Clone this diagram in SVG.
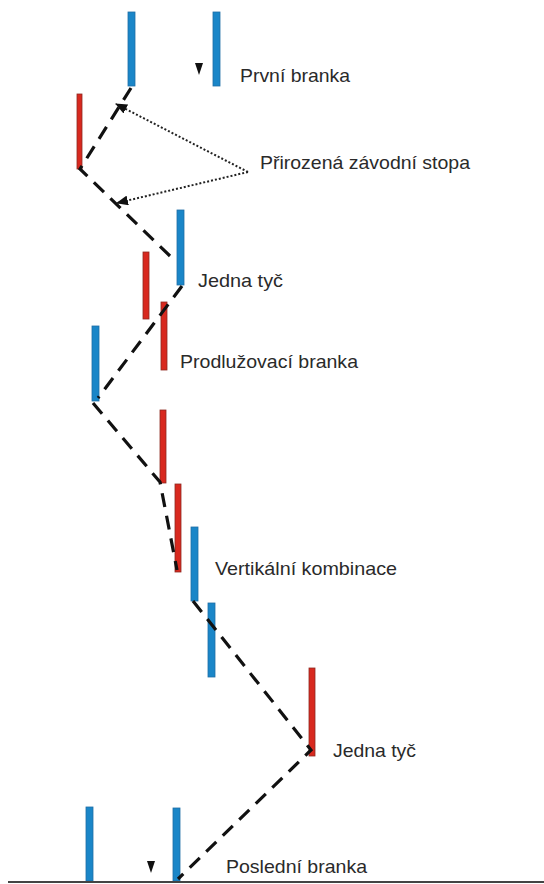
<svg xmlns="http://www.w3.org/2000/svg" width="544" height="884" viewBox="0 0 544 884">
<style>
.blue{fill:#1a86c8;stroke:#1f6ea6;stroke-width:0.8}
.red{fill:#d8291f;stroke:#8e2a22;stroke-width:0.8}
.track{fill:none;stroke:#111;stroke-width:3.2;stroke-dasharray:14 9}
.dot{fill:none;stroke:#222;stroke-width:2;stroke-dasharray:2 2}
.lbl{font-family:"Liberation Sans",Arial,sans-serif;font-size:18.5px;fill:#2a2a2a}
</style>
<defs>
<marker id="ah" viewBox="0 0 12 10" refX="11" refY="5" markerWidth="12" markerHeight="10" markerUnits="userSpaceOnUse" orient="auto">
<path d="M0,0 L12,5 L0,10 Z" fill="#111"/>
</marker>
</defs>
<rect x="0" y="0" width="544" height="884" fill="#fff"/>
<g id="poles">
<g id="gate-first"><rect class="blue" x="128" y="12" width="7" height="74"/><rect class="blue" x="213" y="12" width="7" height="74"/><path d="M195,63 L203,63 L199,75 Z" fill="#111"/></g>
<g id="pole-red1"><rect class="red" x="77" y="94" width="5" height="75"/></g>
<g id="pole-blue3"><rect class="blue" x="177" y="210" width="7" height="75"/></g>
<g id="pole-red2"><rect class="red" x="143" y="252" width="6" height="67"/></g>
<g id="pole-red3"><rect class="red" x="161" y="302" width="6" height="68"/></g>
<g id="pole-blue4"><rect class="blue" x="92" y="326" width="7" height="75"/></g>
<g id="pole-red4"><rect class="red" x="160" y="410" width="6" height="73"/></g>
<g id="pole-red5"><rect class="red" x="175" y="484" width="6" height="88"/></g>
<g id="pole-blue5"><rect class="blue" x="191" y="527" width="7" height="74"/></g>
<g id="pole-blue6"><rect class="blue" x="208" y="603" width="7" height="74"/></g>
<g id="pole-red6"><rect class="red" x="309" y="668" width="6" height="88"/></g>
<g id="gate-last"><rect class="blue" x="86" y="807" width="7" height="74"/><rect class="blue" x="173" y="808" width="7" height="73"/><path d="M147,861 L155,861 L151,873 Z" fill="#111"/></g>
</g>
<g id="connectors">
<path class="track" d="M131,88 L80,169 L170,256"/>
<path class="track" d="M182,286 L98,398"/>
<path class="track" d="M93,403 L160,482 L177,570"/>
<path class="track" d="M193,601 L311,750 L178,879"/>
<path class="dot" d="M248,172 L116,104" marker-end="url(#ah)"/>
<path class="dot" d="M248,172 L117,203" marker-end="url(#ah)"/>
<line x1="8" y1="882" x2="544" y2="882" stroke="#444" stroke-width="2"/>
</g>
<g id="labels">
<text class="lbl" x="240" y="82" textLength="110" lengthAdjust="spacingAndGlyphs">První branka</text>
<text class="lbl" x="260" y="169" textLength="210" lengthAdjust="spacingAndGlyphs">Přirozená závodní stopa</text>
<text class="lbl" x="198" y="287" textLength="85" lengthAdjust="spacingAndGlyphs">Jedna tyč</text>
<text class="lbl" x="180" y="368" textLength="178" lengthAdjust="spacingAndGlyphs">Prodlužovací branka</text>
<text class="lbl" x="215" y="575" textLength="182" lengthAdjust="spacingAndGlyphs">Vertikální kombinace</text>
<text class="lbl" x="333" y="757" textLength="83" lengthAdjust="spacingAndGlyphs">Jedna tyč</text>
<text class="lbl" x="226" y="873" textLength="141" lengthAdjust="spacingAndGlyphs">Poslední branka</text>
</g>
</svg>
